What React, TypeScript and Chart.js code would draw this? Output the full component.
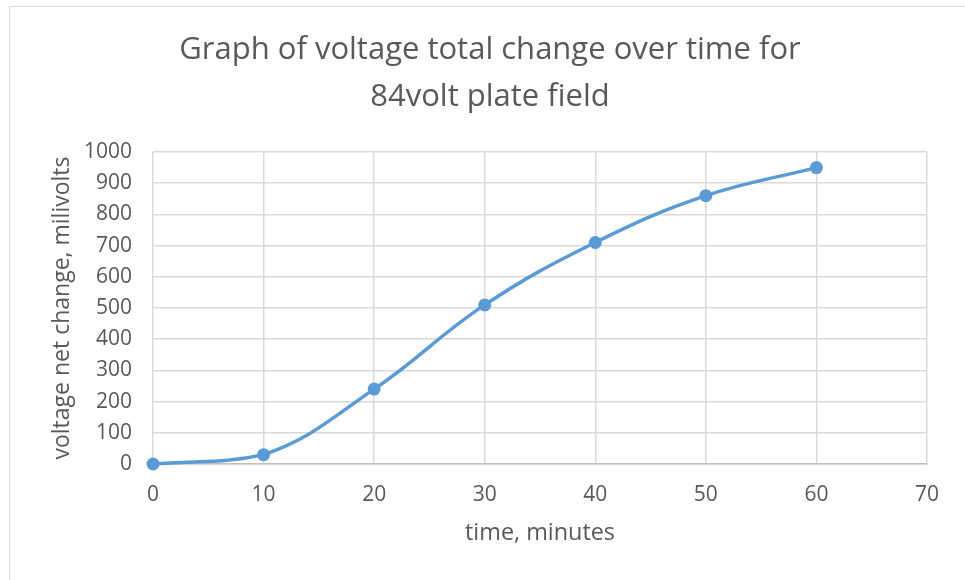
import React, { useEffect, useRef } from "react";
import { Chart, registerables } from "chart.js";

Chart.register(...registerables);

const timeMinutes = [0, 10, 20, 30, 40, 50, 60];
const voltageChange = [0, 30, 240, 510, 710, 860, 950];
const titleLines = ["Graph of voltage total change over time for", "84volt plate field"];
const xTitle = "time, minutes";
const yTitle = "voltage net change, milivolts";

const FONT = "'Open Sans', sans-serif";
const TEXT = "#595959";
const GRID = "#d9d9d9";
const LINE = "#5B9BD5";

export default function App() {
  const ref = useRef<HTMLCanvasElement | null>(null);

  useEffect(() => {
    if (!ref.current) return;
    const chart = new Chart(ref.current, {
      type: "scatter",
      data: {
        datasets: [
          {
            label: "voltage",
            data: timeMinutes.map((t, i) => ({ x: t, y: voltageChange[i] })),
            showLine: true,
            borderColor: LINE,
            backgroundColor: LINE,
            borderWidth: 3.5,
            pointRadius: 6.5,
            pointBorderWidth: 0,
            tension: 0.4,
            clip: false,
          },
        ],
      },
      options: {
        animation: false,
        responsive: false,
        layout: { padding: { left: 53, right: 38, top: 0, bottom: 0 } },
        plugins: {
          legend: { display: false },
          tooltip: { enabled: false },
          title: {
            display: true,
            text: titleLines,
            color: TEXT,
            font: { family: FONT, size: 31, weight: "normal", lineHeight: 47 / 31 },
            padding: { top: 27, bottom: 31 },
          },
        },
        scales: {
          x: {
            type: "linear",
            min: 0,
            max: 70,
            ticks: { stepSize: 10, color: TEXT, font: { family: FONT, size: 21 }, padding: 18 },
            grid: { color: GRID, lineWidth: 1.5, drawTicks: false },
            border: { color: "#bfbfbf", width: 1.5 },
            title: {
              display: true,
              text: xTitle,
              color: TEXT,
              font: { family: FONT, size: 23.4 },
              padding: { top: 0, bottom: 33 },
            },
            afterFit: (scale: any) => {
              scale.height = 116;
            },
          },
          y: {
            type: "linear",
            min: 0,
            max: 1000,
            ticks: {
              stepSize: 100,
              color: TEXT,
              font: { family: FONT, size: 21 },
              padding: 21,
              callback: (v: any) => String(v),
            },
            grid: { color: GRID, lineWidth: 1.5, drawTicks: false },
            border: { display: false },
            title: {
              display: true,
              text: yTitle,
              color: TEXT,
              font: { family: FONT, size: 23, lineHeight: 1 },
              padding: { top: -2.5, bottom: 0 },
            },
            afterFit: (scale: any) => {
              scale.width = 100;
            },
          },
        },
      },
    });
    return () => chart.destroy();
  }, []);

  return (
    <div style={{ position: "absolute", left: 0, top: 0, width: 965, height: 580, background: "#fff" }}>
      <div style={{ position: "absolute", left: 9, top: 6, right: 0, bottom: 0, borderTop: "1.5px solid #d9d9d9", borderLeft: "1.5px solid #d9d9d9" }} />
      <canvas ref={ref} width={965} height={580} style={{ position: "absolute", left: 0, top: 0 }} />
    </div>
  );
}
